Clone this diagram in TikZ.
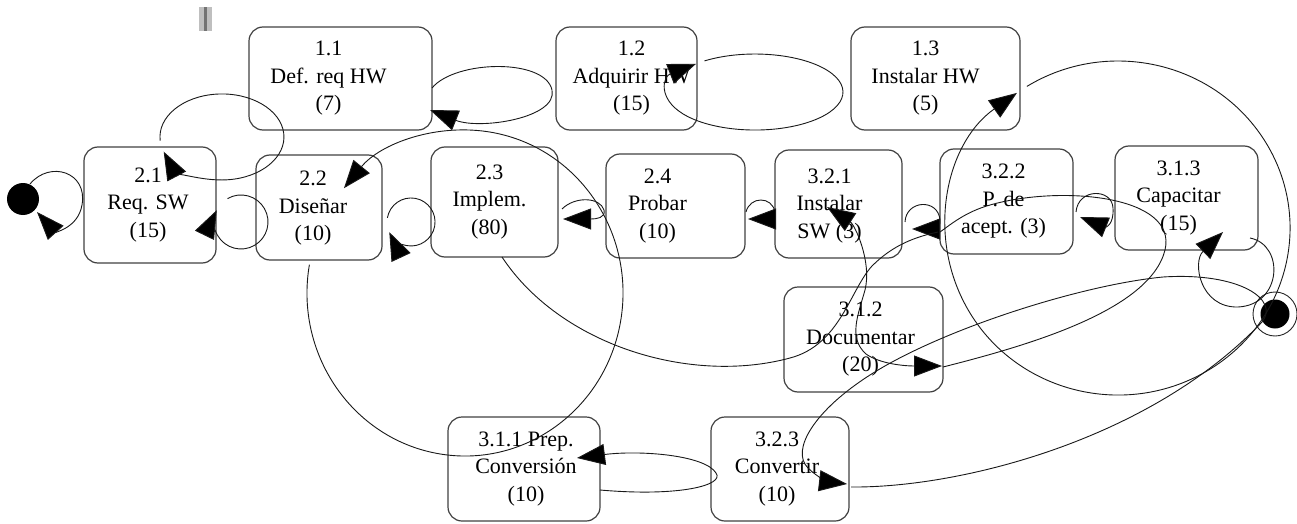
\documentclass[tikz,border=0pt]{standalone}
\usepackage{fontspec}
\setmainfont{Liberation Serif}
\usetikzlibrary{arrows.meta}

\begin{document}
\begin{tikzpicture}[x=1pt,y=-1pt,
    task/.style={draw=black!75, line width=1.2pt, rounded corners=14pt, inner sep=0pt},
    tasktext/.style={align=center, font=\fontsize{22}{27.5}\selectfont, inner sep=0pt, text=black},
    edge/.style={draw=black!90, line width=0.9pt, -{Triangle[length=28pt,width=21pt,fill=black]}},
    link/.style={draw=black!90, line width=0.9pt}]

    \useasboundingbox (0,0) rectangle (1297,524);

    % grey mark at the top
    \fill[black!25] (199,7) rectangle (212,31);
    \fill[black!55] (204,7) rectangle (207,31);

    % draw tasks
    \node[task, minimum width=183pt, minimum height=103pt, label={[tasktext, xshift=-12pt]center:{1.1\\Def. req HW\\(7)}}] (t11) at (340.5,78.5) {};
    \node[task, minimum width=141pt, minimum height=103pt, label={[tasktext, xshift=5pt]center:{1.2\\Adquirir HW\\(15)}}] (t12) at (626.5,78.5) {};
    \node[task, minimum width=169pt, minimum height=103pt, label={[tasktext, xshift=-10pt]center:{1.3\\Instalar HW\\(5)}}] (t13) at (935.5,78.5) {};
    \node[task, minimum width=132pt, minimum height=116pt, label={[tasktext, xshift=-2pt]center:{2.1\\Req. SW\\(15)}}] (t21) at (150,205) {};
    \node[task, minimum width=126pt, minimum height=105pt, label={[tasktext, xshift=-6pt, yshift=-1pt]center:{2.2\\Diseñar\\(10)}}] (t22) at (319,207.5) {};
    \node[task, minimum width=127pt, minimum height=110pt, label={[tasktext, xshift=-5pt]center:{2.3\\Implem.\\(80)}}] (t23) at (494.5,202) {};
    \node[task, minimum width=139pt, minimum height=104pt, label={[tasktext, xshift=-18pt]center:{2.4\\Probar\\(10)}}] (t24) at (675.5,206) {};
    \node[task, minimum width=127pt, minimum height=108pt, label={[tasktext, xshift=-9pt, yshift=-2pt]center:{3.2.1\\Instalar\\SW (3)}}] (t321) at (838.5,204) {};
    \node[task, minimum width=133pt, minimum height=105pt, label={[tasktext, xshift=-3pt]center:{3.2.2\\P. de\\acept. (3)}}] (t322) at (1006.5,201.5) {};
    \node[task, minimum width=143pt, minimum height=104pt, label={[tasktext, xshift=-8pt]center:{3.1.3\\Capacitar\\(15)}}] (t313) at (1186.5,198) {};
    \node[task, minimum width=159pt, minimum height=105pt, label={[tasktext, xshift=-3pt]center:{3.1.2\\Documentar\\(20)}}] (t312) at (863.5,339.5) {};
    \node[task, minimum width=152pt, minimum height=104pt, label={[tasktext, xshift=2pt]center:{3.1.1 Prep.\\Conversión\\(10)}}] (t311) at (524,469) {};
    \node[task, minimum width=138pt, minimum height=104pt, label={[tasktext, xshift=-3pt]center:{3.2.3\\Convertir\\(10)}}] (t323) at (780,469) {};

    % start and end
    \node[circle, fill=black, minimum size=32pt, inner sep=0pt] (start) at (23,199) {};
    \node[circle, draw=black!85, line width=0.9pt, minimum size=44pt, inner sep=0pt] (fin) at (1275,314) {};
    \fill (fin.center) circle[radius=14.5pt];

    % draw loops
    \draw[edge] (30,184) .. controls (50,160) and (88,172) .. (82,205) .. controls (78,228) and (55,232) .. (37,212);
    \draw[edge] (160.2,140.7) arc[start angle=-185, end angle=160, x radius=62, y radius=43];
    \draw[edge] (227.5,198.6) arc[start angle=-120, end angle=206, radius=27];
    \draw[edge] (432,88) .. controls (455,60) and (545,58) .. (552,90) .. controls (558,118) and (480,130) .. (430,110);
    \draw[edge] (704.5,60.9) arc[start angle=-125, end angle=228, x radius=88, y radius=38];
    \draw[edge] (309.4,264.7) arc[start angle=190, end angle=-140, x radius=158, y radius=163];
    \draw[edge] (387.4,217.8) arc[start angle=-170, end angle=155, radius=24];
    \draw[edge] (562,209) .. controls (575,196) and (600,197) .. (604,210) .. controls (606,218) and (596,219) .. (563,219);
    \draw[edge] (746,212) .. controls (750,196) and (772,196) .. (775,212) .. controls (776,219) and (770,219) .. (748,219);
    \draw[edge] (905,222) .. controls (906,200) and (938,198) .. (940,220) .. controls (941,229) and (932,229) .. (912,229);
    \draw[edge] (1076,212) .. controls (1078,188) and (1112,188) .. (1113,208) .. controls (1114,226) and (1105,227) .. (1080,217);
    \draw[edge] (1250,238) .. controls (1285,245) and (1282,305) .. (1238,307) .. controls (1200,308) and (1192,262) .. (1223,232);
    \draw[edge] (1026.9,86.4) arc[start angle=238, end angle=594, x radius=172, y radius=167];

    % draw long curves
    \draw[edge] (851,487) .. controls (960,488) and (1150,440) .. (1262,322) .. controls (1280,300) and (1240,272) .. (1163,277)
        .. controls (1080,285) and (940,330) .. (870,375) .. controls (815,410) and (790,450) .. (808,468) .. controls (818,478) and (830,482) .. (847,484);
    \draw[edge] (600,490) .. controls (680,497) and (725,485) .. (716,473) .. controls (705,455) and (640,450) .. (577,458);
    \draw[link] (943,367) .. controls (1030,345) and (1150,310) .. (1165,250) .. controls (1178,195) and (1060,185) .. (990,205)
        .. controls (965,212) and (950,225) .. (940,232);
    \draw[edge, {Triangle[length=28pt,width=21pt,fill=black]}-{Triangle[length=28pt,width=21pt,fill=black]}] (827,207) .. controls (855,225) and (872,262) .. (865,290)
        .. controls (858,315) and (848,338) .. (866,354) .. controls (880,364) and (905,366) .. (942,366);
    \draw[link] (502,257) .. controls (560,345) and (690,385) .. (790,358) .. controls (840,345) and (850,290) .. (872,266)
        .. controls (893,245) and (915,237) .. (938,232);
\end{tikzpicture}
\end{document}
